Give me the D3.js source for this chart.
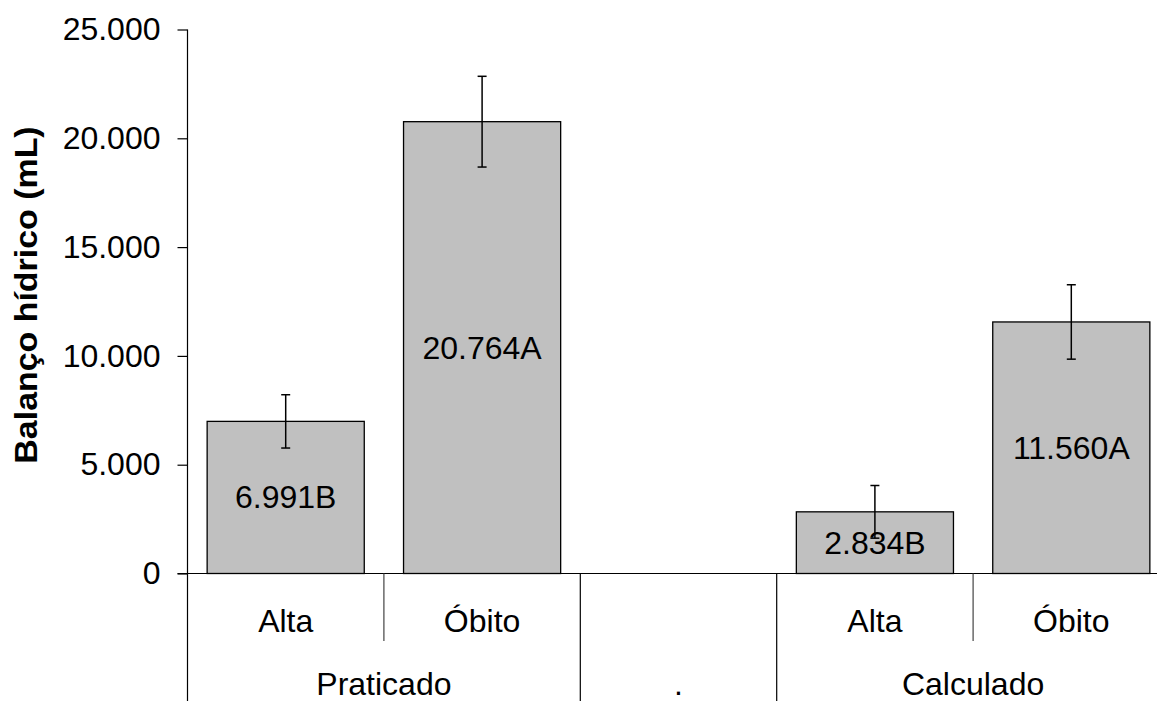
<!DOCTYPE html>
<html>
<head>
<meta charset="utf-8">
<script src="https://cdn.jsdelivr.net/npm/d3@7"></script>
<style>
  html, body { margin: 0; padding: 0; background: #fff; }
  svg { display: block; font-family: "Liberation Sans", Arial, sans-serif; }
</style>
</head>
<body>
<svg id="chart" width="1157" height="701"></svg>
<script>
// Fluid balance by outcome, practised vs calculated
const slots      = ["Praticado-Alta", "Praticado-Óbito", "vazio", "Calculado-Alta", "Calculado-Óbito"];
const outcomes   = ["Alta", "Óbito", "", "Alta", "Óbito"];
const groups     = ["Praticado", ".", "Calculado"];
const groupSpans = [[0, 1], [2, 2], [3, 4]];
const values     = [6991, 20764, null, 2834, 11560];
const errors     = [1225, 2085, null, 1210, 1710];
const letters    = ["B", "A", "", "B", "A"];
const yTicks     = [0, 5000, 10000, 15000, 20000, 25000];

const ptBR = d3.formatLocale({ decimal: ",", thousands: ".", grouping: [3], currency: ["R$", ""] });
const fmt = ptBR.format(",d");

const FS = 32;
const svg = d3.select("#chart");
const x0 = 187.5, yTop = 29.5, yBase = 573.5;
const stepW = 196.4;
const xEnd = x0 + stepW * slots.length;

const y = d3.scaleLinear().domain([0, 25000]).range([yBase, yTop]);
const xSlot = d3.scaleBand().domain(slots).range([x0, xEnd]).padding(0);
const xBar = d3.scaleBand().domain(slots).range([x0, xEnd]).paddingInner(0.2).paddingOuter(0.1);

const data = slots.map((s, i) => ({ slot: s, outcome: outcomes[i], v: values[i], e: errors[i], letter: letters[i] }))
  .filter(d => d.v != null);

// Bars
svg.append("g").selectAll("rect").data(data).join("rect")
  .attr("x", d => xBar(d.slot))
  .attr("y", d => y(d.v))
  .attr("width", xBar.bandwidth())
  .attr("height", d => y(0) - y(d.v))
  .attr("fill", "#c0c0c0")
  .attr("stroke", "#000")
  .attr("stroke-width", 1.3);

// Value labels inside bars
svg.append("g").selectAll("text").data(data).join("text")
  .attr("x", d => xBar(d.slot) + xBar.bandwidth() / 2)
  .attr("y", d => (y(d.v) + y(0)) / 2)
  .attr("text-anchor", "middle")
  .attr("dominant-baseline", "central")
  .attr("font-size", FS)
  .attr("fill", "#000")
  .text(d => fmt(d.v) + d.letter);

// Error bars
const eb = svg.append("g").attr("stroke", "#000").attr("stroke-width", 1.5);
data.forEach(d => {
  const cx = xBar(d.slot) + xBar.bandwidth() / 2;
  const capW = 4.5;
  eb.append("line").attr("x1", cx).attr("x2", cx).attr("y1", y(d.v + d.e)).attr("y2", y(d.v - d.e));
  eb.append("line").attr("x1", cx - capW).attr("x2", cx + capW).attr("y1", y(d.v + d.e)).attr("y2", y(d.v + d.e));
  eb.append("line").attr("x1", cx - capW).attr("x2", cx + capW).attr("y1", y(d.v - d.e)).attr("y2", y(d.v - d.e));
});

// Y axis
const yAxis = d3.axisLeft(y).tickValues(yTicks).tickSize(10).tickPadding(17).tickFormat(fmt);
const gy = svg.append("g").attr("transform", `translate(${x0},0)`).call(yAxis);
gy.select(".domain").remove();
gy.selectAll(".tick line").attr("stroke", "#000").attr("stroke-width", 1.2);
gy.selectAll(".tick text").attr("font-size", FS).attr("font-family", "Liberation Sans, Arial, sans-serif").attr("fill", "#000");
svg.append("line").attr("x1", x0).attr("x2", x0).attr("y1", yTop).attr("y2", 701)
  .attr("stroke", "#000").attr("stroke-width", 1.2);

// Baseline
svg.append("line").attr("x1", x0 - 10).attr("x2", 1157).attr("y1", y(0)).attr("y2", y(0))
  .attr("stroke", "#000").attr("stroke-width", 1.2);

// Category separators: short ones within groups, long ones between groups
const groupStarts = groupSpans.map(s => s[0]);
slots.forEach((s, i) => {
  if (i === 0) return;
  const xx = xSlot(s);
  const long = groupStarts.includes(i);
  svg.append("line").attr("x1", xx).attr("x2", xx)
    .attr("y1", y(0)).attr("y2", long ? 701 : 641)
    .attr("stroke", long ? "#000" : "#444").attr("stroke-width", 1.2);
});

// Outcome labels
svg.append("g").selectAll("text").data(slots).join("text")
  .attr("x", s => xSlot(s) + xSlot.bandwidth() / 2)
  .attr("y", 632)
  .attr("text-anchor", "middle")
  .attr("font-size", FS)
  .attr("fill", "#000")
  .text((s, i) => outcomes[i]);

// Group labels
svg.append("g").selectAll("text").data(groups).join("text")
  .attr("x", (g, i) => {
    const a = xSlot(slots[groupSpans[i][0]]);
    const b = xSlot(slots[groupSpans[i][1]]) + xSlot.bandwidth();
    return (a + b) / 2;
  })
  .attr("y", 695)
  .attr("text-anchor", "middle")
  .attr("font-size", FS)
  .attr("fill", "#000")
  .text(g => g);

// Y axis title
svg.append("text")
  .attr("transform", `translate(37, 295) rotate(-90) scale(1.06, 1)`)
  .attr("text-anchor", "middle")
  .attr("font-size", FS)
  .attr("font-weight", "bold")
  .attr("fill", "#000")
  .text("Balanço hídrico (mL)");
</script>
</body>
</html>
